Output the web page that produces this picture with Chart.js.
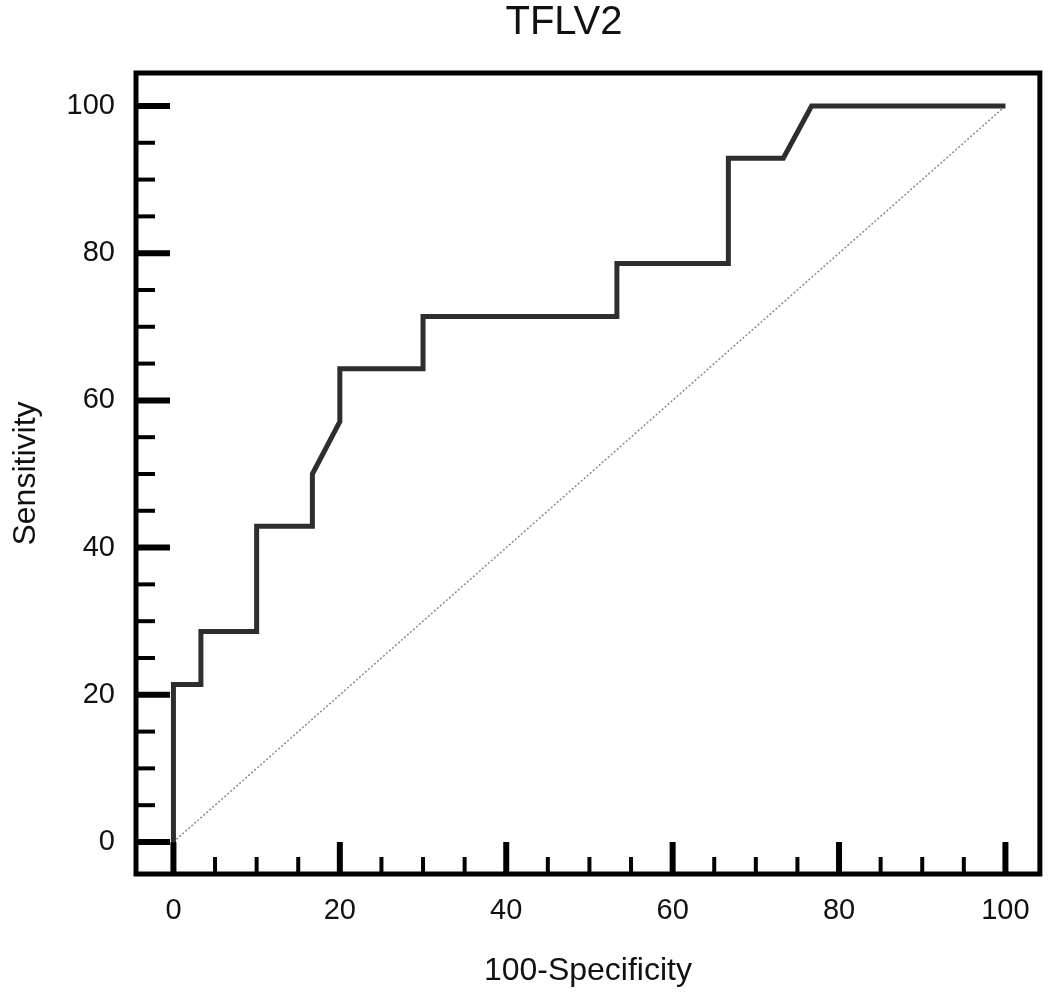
<!DOCTYPE html>
<html>
<head>
<meta charset="utf-8">
<title>TFLV2</title>
<script src="https://cdn.jsdelivr.net/npm/chart.js@4.4.1/dist/chart.umd.min.js"></script>
<style>
    html, body { margin: 0; padding: 0; background: #fff; }
    #wrap { width: 1050px; height: 993px; position: relative; }
</style>
</head>
<body>
<div id="wrap"><canvas id="rocChart"></canvas></div>
<script>
var chartTitle = 'TFLV2';
var xTitle = '100-Specificity';
var yTitle = 'Sensitivity';
var tickValues = [0, 20, 40, 60, 80, 100];
var minorTicks = [0, 5, 10, 15, 20, 25, 30, 35, 40, 45, 50, 55, 60, 65, 70, 75, 80, 85, 90, 95, 100];

// curva ROC (100-especificidade, sensibilidade)
var rocX = [0, 0, 3.3, 3.3, 10, 10, 16.7, 16.7, 20, 20, 30, 30, 53.3, 53.3, 66.7, 66.7, 73.3, 76.7, 100];
var rocY = [0, 21.4, 21.4, 28.6, 28.6, 42.9, 42.9, 50, 57.1, 64.3, 64.3, 71.4, 71.4, 78.6, 78.6, 92.9, 92.9, 100, 100];

// linha de referencia
var refX = [0, 100];
var refY = [0, 100];

var fontFamily = '"Liberation Sans", Arial, Helvetica, sans-serif';

function toPoints(xs, ys) {
    var pts = [];
    for (var i = 0; i < xs.length; i++) {
        pts.push({ x: xs[i], y: ys[i] });
    }
    return pts;
}

function setTicks(axis) {
    axis.ticks = tickValues.map(function(v) { return { value: v }; });
}

// moldura, marcas dos eixos e titulo
var framePlugin = {
    id: 'frame',
    beforeDatasetsDraw: function(chart) {
        var ctx = chart.ctx;
        var area = chart.chartArea;
        var xs = chart.scales.x;
        var ys = chart.scales.y;
        ctx.save();
        ctx.strokeStyle = '#000';
        ctx.lineCap = 'butt';
        minorTicks.forEach(function(v) {
            var major = v % 20 === 0;
            ctx.lineWidth = major ? 6 : 4;
            var len = major ? 32 : 17;
            var px = xs.getPixelForValue(v);
            ctx.beginPath();
            ctx.moveTo(px, area.bottom);
            ctx.lineTo(px, area.bottom - len);
            ctx.stroke();
            var py = ys.getPixelForValue(v);
            ctx.beginPath();
            ctx.moveTo(area.left, py);
            ctx.lineTo(area.left + len + 2, py);
            ctx.stroke();
        });
        ctx.restore();
    },
    afterDraw: function(chart) {
        var ctx = chart.ctx;
        var area = chart.chartArea;
        ctx.save();
        ctx.strokeStyle = '#000';
        ctx.lineWidth = 5;
        ctx.strokeRect(area.left, area.top, area.right - area.left, area.bottom - area.top);
        ctx.fillStyle = '#111';
        ctx.font = '40px ' + fontFamily;
        ctx.textAlign = 'center';
        ctx.textBaseline = 'middle';
        ctx.fillText(chartTitle, 564, 23);
        ctx.restore();
    }
};

var ctx = document.getElementById('rocChart').getContext('2d');
var chart = new Chart(ctx, {
    type: 'scatter',
    data: {
        datasets: [
            {
                label: 'ROC',
                data: toPoints(rocX, rocY),
                showLine: true,
                borderColor: '#2e2e2e',
                borderWidth: 5,
                borderJoinStyle: 'miter',
                borderCapStyle: 'butt',
                pointRadius: 0,
                tension: 0
            },
            {
                label: 'Referência',
                data: toPoints(refX, refY),
                showLine: true,
                borderColor: '#8a8a8a',
                borderWidth: 1.5,
                borderDash: [2, 2],
                pointRadius: 0
            }
        ]
    },
    options: {
        responsive: true,
        maintainAspectRatio: false,
        animation: false,
        layout: { padding: { top: 73, right: 10, left: 0, bottom: 0 } },
        scales: {
            x: {
                type: 'linear',
                position: 'bottom',
                min: -4.5,
                max: 104.14,
                afterBuildTicks: setTicks,
                afterFit: function(axis) { axis.height = 119; },
                grid: { display: false, drawTicks: false },
                border: { display: false },
                ticks: { color: '#111', padding: 20, font: { family: fontFamily, size: 29 } },
                title: {
                    display: true,
                    text: xTitle,
                    color: '#111',
                    font: { family: fontFamily, size: 32 },
                    padding: { top: 0, bottom: 3 }
                }
            },
            y: {
                type: 'linear',
                position: 'left',
                min: -4.35,
                max: 104.48,
                afterBuildTicks: setTicks,
                afterFit: function(axis) { axis.width = 136; },
                grid: { display: false, drawTicks: false },
                border: { display: false },
                ticks: { color: '#111', padding: 21, font: { family: fontFamily, size: 29 } },
                title: {
                    display: true,
                    text: yTitle,
                    color: '#111',
                    font: { family: fontFamily, size: 32 },
                    padding: { top: 7, bottom: 0 }
                }
            }
        },
        plugins: {
            legend: { display: false },
            tooltip: { enabled: false }
        }
    },
    plugins: [framePlugin]
});
</script>
</body>
</html>
